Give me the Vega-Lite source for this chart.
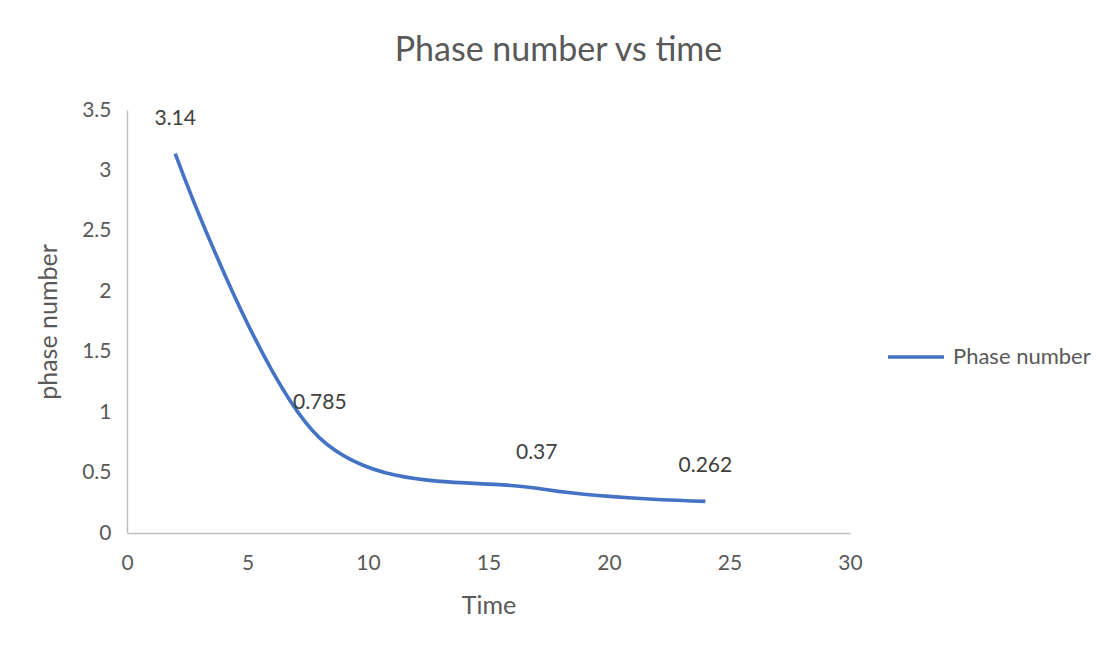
{
  "$schema": "https://vega.github.io/schema/vega-lite/v6.json",
  "autosize": "none",
  "width": 723,
  "height": 423,
  "padding": {"left": 127, "top": 110, "right": 254, "bottom": 117},
  "background": "white",
  "title": {
    "text": "Phase number vs time",
    "fontSize": 34,
    "font": "Lato",
    "fontWeight": "normal",
    "color": "#595959",
    "anchor": "middle",
    "dx": 70,
    "offset": 31
  },
  "data": {
    "values": [
      {"time": 2, "phase": 3.14, "series": "Phase number"},
      {"time": 8, "phase": 0.785, "series": "Phase number"},
      {"time": 17, "phase": 0.37, "series": "Phase number"},
      {"time": 24, "phase": 0.262, "series": "Phase number"}
    ]
  },
  "encoding": {
    "x": {
      "field": "time",
      "type": "quantitative",
      "scale": {"domain": [0, 30], "nice": false},
      "axis": {
        "title": "Time",
        "values": [0, 5, 10, 15, 20, 25, 30],
        "grid": false,
        "ticks": false,
        "labelFlush": false,
        "domainColor": "#BFBFBF",
        "domainWidth": 1.5,
        "labelFontSize": 21,
        "labelColor": "#595959",
        "labelFont": "Lato",
        "labelPadding": 19,
        "titleFontSize": 25,
        "titleFont": "Lato",
        "titleFontWeight": "normal",
        "titleColor": "#595959",
        "titlePadding": 20
      }
    },
    "y": {
      "field": "phase",
      "type": "quantitative",
      "scale": {"domain": [0, 3.5], "nice": false},
      "axis": {
        "title": "phase number",
        "values": [0, 0.5, 1, 1.5, 2, 2.5, 3, 3.5],
        "format": "~g",
        "grid": false,
        "ticks": false,
        "labelFlush": false,
        "domainColor": "#BFBFBF",
        "domainWidth": 1.5,
        "labelFontSize": 21,
        "labelColor": "#595959",
        "labelFont": "Lato",
        "labelPadding": 16,
        "titleFontSize": 25,
        "titleFont": "Lato",
        "titleFontWeight": "normal",
        "titleColor": "#595959",
        "titlePadding": 20
      }
    }
  },
  "layer": [
    {
      "mark": {"type": "line", "interpolate": "cardinal", "strokeWidth": 3.6},
      "encoding": {
        "color": {
          "field": "series",
          "type": "nominal",
          "scale": {"range": ["#4472C4"]},
          "legend": {
            "title": null,
            "orient": "none",
            "legendX": 759,
            "legendY": 217,
            "symbolType": "stroke",
            "symbolSize": 3136,
            "symbolStrokeWidth": 3.6,
            "labelFontSize": 22,
            "labelFont": "Lato",
            "labelColor": "#595959",
            "labelOffset": 7
          }
        }
      }
    },
    {
      "mark": {"type": "text", "dy": -35, "fontSize": 21, "font": "Lato", "color": "#404040"},
      "encoding": {"text": {"field": "phase", "type": "nominal"}}
    }
  ],
  "config": {"view": {"stroke": null}}
}
